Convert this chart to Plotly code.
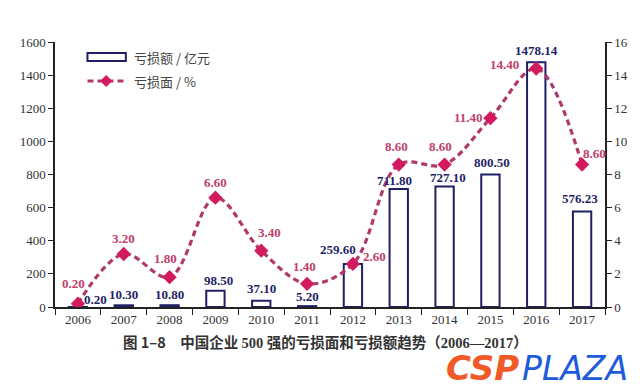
import plotly.graph_objects as go

years = ["2006", "2007", "2008", "2009", "2010", "2011", "2012", "2013", "2014", "2015", "2016", "2017"]
loss_amount = [0.20, 10.30, 10.80, 98.50, 37.10, 5.20, 259.60, 711.80, 727.10, 800.50, 1478.14, 576.23]
loss_rate = [0.20, 3.20, 1.80, 6.60, 3.40, 1.40, 2.60, 8.60, 8.60, 11.40, 14.40, 8.60]
left_ticks = [0, 200, 400, 600, 800, 1000, 1200, 1400, 1600]
right_ticks = [0, 2, 4, 6, 8, 10, 12, 14, 16]
legend_names = ["亏损额 / 亿元", "亏损面 / %"]
title_text = "图 1–8　中国企业 <span style='font-family:Liberation Serif'>500</span> 强的亏损面和亏损额趋势（<span style='font-family:Liberation Serif'>2006—2017</span>）"

NAVY = "#1f1f66"
LINE = "#b0386c"
MARK = "#d41a5e"
LABEL = "#c0406c"
SERIF = "Liberation Serif, Times New Roman, serif"
CJK = "Noto Sans CJK SC"
DASH = "6px,4px"

W, H = 640, 390
OFF = 8  # page body margin
L, T = 46 - OFF, 42 - OFF
PW, PH = 559, 265
R = W - L - PW
B = H - T - PH


def px(x):
    return (x - 46) / PW


def py(y):
    return (307 - y) / PH


fig = go.Figure()
fig.add_trace(go.Bar(
    x=years, y=loss_amount, name=legend_names[0],
    marker=dict(color="white", line=dict(color=NAVY, width=2)),
    width=0.4, yaxis="y", showlegend=False,
))
fig.add_trace(go.Scatter(
    x=years, y=loss_rate, name=legend_names[1], yaxis="y2", showlegend=False,
    mode="lines+markers", line=dict(color=LINE, width=3.2, dash=DASH, shape="spline", smoothing=1.0),
    marker=dict(symbol="diamond", size=11, color=MARK),
))

# label offsets in pixels (dx, dy up)
bar_off = [(18, 7), (0, 11), (0, 11), (3, 10), (0, 12), (0, 10), (-15, 15), (-4, 9), (3, 9), (2, 12), (0, 12), (-2, 13)]
rate_off = [(-4, 20), (0, 16), (-4, 19), (0, 15), (8, 18), (-3, 17), (22, 7), (-2, 18), (-4, 18), (-22, 1), (-32, 4), (12, 11)]

annotations = []
for i, v in enumerate(loss_amount):
    dx, dy = bar_off[i]
    annotations.append(dict(x=i, y=v, xref="x", yref="y", text=f"{v:.2f}", showarrow=False,
                            xanchor="center", yanchor="middle",
                            xshift=dx, yshift=dy, font=dict(family=SERIF, size=13, color=NAVY, weight="bold")))
for i, v in enumerate(loss_rate):
    dx, dy = rate_off[i]
    annotations.append(dict(x=i, y=v, xref="x", yref="y2", text=f"{v:.2f}", showarrow=False,
                            xanchor="center", yanchor="middle",
                            xshift=dx, yshift=dy, font=dict(family=SERIF, size=13, color=LABEL, weight="bold")))

# title
annotations.append(dict(x=px(321), y=py(341), xref="paper", yref="paper", showarrow=False,
                        xanchor="center", yanchor="middle",
                        text=title_text, font=dict(family=CJK, size=14.5, color="#333333", weight="bold")))
# custom legend texts
annotations.append(dict(x=px(124), y=py(57), xref="paper", yref="paper", xanchor="left", yanchor="middle",
                        showarrow=False, text=legend_names[0], font=dict(family=CJK, size=13, color="#444444")))
annotations.append(dict(x=px(124), y=py(81), xref="paper", yref="paper", xanchor="left", yanchor="middle",
                        showarrow=False, text=legend_names[1], font=dict(family=CJK, size=13, color="#444444")))
# watermark
annotations.append(dict(x=px(480), y=py(368), xref="paper", yref="paper", showarrow=False,
                        xanchor="center", yanchor="middle", borderpad=0,
                        text="<i><b>CSP</b></i>", font=dict(family="DejaVu Sans", size=34, color="#f05a28")))
annotations.append(dict(x=px(575), y=py(368), xref="paper", yref="paper", showarrow=False,
                        xanchor="center", yanchor="middle", borderpad=0,
                        text="<i>PLAZA</i>", font=dict(family="DejaVu Sans", size=33, color="#1e5bd8")))

shapes = [
    dict(type="rect", xref="paper", yref="paper", x0=px(79), x1=px(118), y0=py(61), y1=py(53),
         line=dict(color=NAVY, width=2), fillcolor="white"),
    dict(type="line", xref="paper", yref="paper", x0=px(79), x1=px(117), y0=py(81), y1=py(81),
         line=dict(color=LINE, width=3.2, dash=DASH)),
    dict(type="path", xref="paper", yref="paper", xsizemode="pixel", ysizemode="pixel",
         xanchor=px(98), yanchor=py(81), path="M 0 6 L 6 0 L 0 -6 L -6 0 Z",
         fillcolor=MARK, line=dict(color=MARK, width=0)),
]

fig.update_layout(
    width=W, height=H,
    margin=dict(l=L, r=R, t=T, b=B),
    paper_bgcolor="white", plot_bgcolor="white",
    showlegend=False,
    annotations=annotations,
    shapes=shapes,
    xaxis=dict(type="category", range=[-0.5, 11.5], showline=True, linecolor="#222222", linewidth=1.5,
               ticks="outside", ticklen=6, tickcolor="#222222", tickson="boundaries",
               tickfont=dict(family=SERIF, size=13, color="#333333"), showgrid=False),
    yaxis=dict(range=[0, 1600], tickvals=left_ticks, showline=True, linecolor="#222222", linewidth=1.5,
               ticks="outside", ticklen=5, tickcolor="#222222", showgrid=False, zeroline=False,
               tickfont=dict(family=SERIF, size=13, color="#333333")),
    yaxis2=dict(range=[0, 16], tickvals=right_ticks, overlaying="y", side="right", showline=True,
                linecolor="#222222", linewidth=1.5, ticks="outside", ticklen=5, tickcolor="#222222",
                showgrid=False, zeroline=False, tickfont=dict(family=SERIF, size=13, color="#333333")),
)

fig.write_html("out.html")
